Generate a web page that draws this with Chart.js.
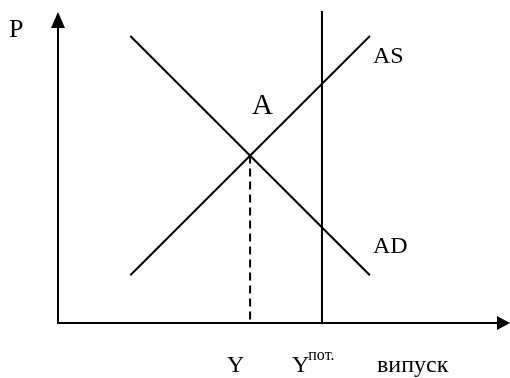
<!DOCTYPE html>
<html>
<head>
<meta charset="utf-8">
<script src="https://cdn.jsdelivr.net/npm/chart.js@4/dist/chart.umd.min.js"></script>
<style>
  html, body { margin: 0; padding: 0; background: #fff; }
  canvas { display: block; }
</style>
</head>
<body>
<canvas id="myChart" width="510" height="378"></canvas>
<script>
// data (axis units: x 0..100 output, y 0..100 price level)
const asX = [16, 69];
const asY = [15.3, 92];
const adX = [16, 69];
const adY = [92, 15.3];
const yPotX = 58.4;
const yPotTop = 100.3;
const eqX = 42.5;
const eqY = 53.7;
const xTickLabels = ['Y', 'Y'];
const xTickSup = ['', 'пот.'];
const xAxisTitle = 'випуск';
const yAxisTitle = 'P';
const curveNames = ['AS', 'AD'];
const pointName = 'A';

const serif = '"Liberation Serif", "Times New Roman", serif';

function toPts(xs, ys) {
  return xs.map((x, i) => ({ x: x, y: ys[i] }));
}

// axes with arrows + text labels
const sketchPlugin = {
  id: 'sketch',
  afterDraw(chart) {
    const ctx = chart.ctx;
    const xs = chart.scales.x, ys = chart.scales.y;
    const x0 = xs.getPixelForValue(0), y0 = ys.getPixelForValue(0);
    const xEnd = xs.getPixelForValue(100), yEnd = ys.getPixelForValue(99.7);
    ctx.save();
    ctx.strokeStyle = '#000';
    ctx.fillStyle = '#000';
    ctx.lineWidth = 2;
    ctx.beginPath();
    ctx.moveTo(x0, yEnd + 10);
    ctx.lineTo(x0, y0);
    ctx.lineTo(xEnd - 10, y0);
    ctx.stroke();
    // arrow heads
    ctx.beginPath();
    ctx.moveTo(x0, yEnd);
    ctx.lineTo(x0 - 7, yEnd + 16);
    ctx.lineTo(x0 + 7, yEnd + 16);
    ctx.closePath();
    ctx.fill();
    ctx.beginPath();
    ctx.moveTo(xEnd, y0);
    ctx.lineTo(xEnd - 13, y0 - 7);
    ctx.lineTo(xEnd - 13, y0 + 7);
    ctx.closePath();
    ctx.fill();

    ctx.textBaseline = 'alphabetic';
    ctx.textAlign = 'left';
    ctx.font = '26px ' + serif;
    ctx.fillText(yAxisTitle, 9, 37);
    ctx.font = '24px ' + serif;
    ctx.fillText(curveNames[0], xs.getPixelForValue(asX[1]) + 3, ys.getPixelForValue(asY[1]) + 27);
    ctx.fillText(curveNames[1], xs.getPixelForValue(adX[1]) + 3, ys.getPixelForValue(adY[1]) - 22);
    ctx.font = '29px ' + serif;
    ctx.fillText(pointName, xs.getPixelForValue(eqX) + 2, ys.getPixelForValue(eqY) - 41);

    // x tick labels under the x axis
    const tickXs = [eqX, yPotX];
    tickXs.forEach((v, i) => {
      const px = xs.getPixelForValue(v);
      const left = i === 0 ? px - 23 : px - 30;
      ctx.font = '24px ' + serif;
      ctx.fillText(xTickLabels[i], left, 372);
      if (xTickSup[i]) {
        const w = ctx.measureText(xTickLabels[i]).width;
        ctx.font = '16px ' + serif;
        ctx.fillText(xTickSup[i], left + w - 1, 360);
      }
    });
    ctx.font = '24px ' + serif;
    ctx.fillText(xAxisTitle, 377, 372);
    ctx.restore();
  }
};

const lineStyle = {
  borderColor: '#000',
  borderWidth: 2,
  pointRadius: 0,
  showLine: true,
  fill: false
};

const datas = [
  Object.assign({ label: curveNames[0], data: toPts(asX, asY) }, lineStyle),
  Object.assign({ label: curveNames[1], data: toPts(adX, adY) }, lineStyle),
  Object.assign({ label: 'Ypot', data: [{ x: yPotX, y: 0 }, { x: yPotX, y: yPotTop }] }, lineStyle),
  Object.assign({ label: 'Y', data: [{ x: eqX, y: eqY }, { x: eqX, y: 0 }], borderDash: [8, 5] }, lineStyle)
];

const ctx = document.getElementById('myChart');
const chart = new Chart(ctx, {
  type: 'scatter',
  data: { datasets: datas },
  options: {
    responsive: false,
    devicePixelRatio: 1,
    animation: false,
    layout: { padding: { left: 58, right: 0, top: 11, bottom: 55 } },
    plugins: { legend: { display: false }, tooltip: { enabled: false } },
    scales: {
      x: { type: 'linear', min: 0, max: 100, display: false },
      y: { type: 'linear', min: 0, max: 100, display: false }
    }
  },
  plugins: [sketchPlugin]
});
</script>
</body>
</html>
